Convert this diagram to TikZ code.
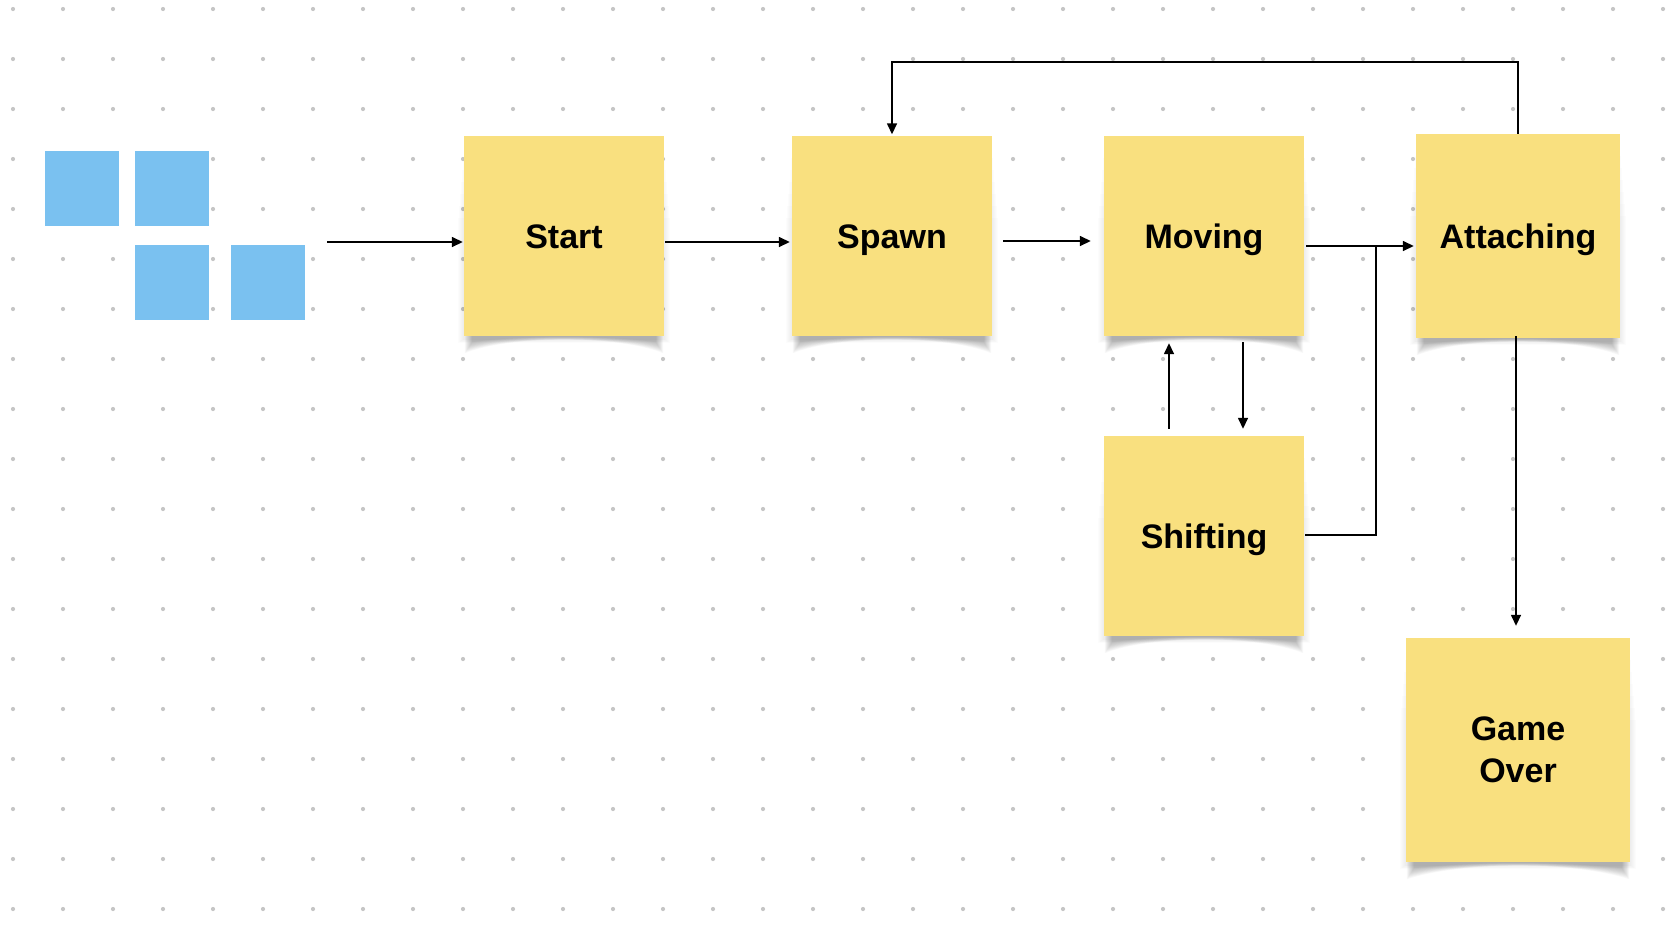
\documentclass[tikz,border=0pt]{standalone}
\usepackage{fontspec}
\setmainfont{Liberation Sans}
\usetikzlibrary{calc,arrows.meta}
\pgfdeclarelayer{canvas}
\pgfdeclarelayer{bg}
\pgfsetlayers{canvas,bg,main}

\definecolor{notey}{HTML}{F9E07F}
\definecolor{tileb}{HTML}{7AC1F0}
\definecolor{gridd}{HTML}{C6C6C6}

\tikzset{
  note/.style={fill=notey, minimum width=#1, minimum height=#1, inner sep=0pt,
    align=center, font=\fontsize{34}{41.5}\selectfont\bfseries},
  oneline/.style={text height=24.5pt, text depth=0pt},
  tile/.style={fill=tileb, minimum width=74pt, minimum height=75pt, inner sep=0pt},
  conn/.style={line width=1.5pt, -{Triangle[length=11pt,width=10pt]}},
  link/.style={line width=1.5pt},
}

% soft halo and curled bottom shadow of a sticky note
\newcommand{\noteshadow}[1]{%
  \foreach \k in {1,...,6}{%
    \fill[black, opacity=0.010]
      ($(#1.south west)+(-\k,\k*0.6+3)$) rectangle ($(#1.north east)+(\k,10+\k*12)$);
  }%
  \foreach \k in {0,...,9}{%
    \fill[black, opacity=0.028]
      ($(#1.south west)+(1+\k*0.8,-2)$) -- ($(#1.south west)+(1+\k*0.8,17-\k*1.2)$)
      .. controls ($(#1.south)+(-55,-1)$) and ($(#1.south)+(55,-1)$) ..
      ($(#1.south east)+(-1-\k*0.8,17-\k*1.2)$) -- ($(#1.south east)+(-1-\k*0.8,-2)$) -- cycle;
  }%
}

\begin{document}
\begin{tikzpicture}[x=1pt, y=-1pt]
\useasboundingbox (0,0) rectangle (1674,938);

% dotted canvas
\begin{pgfonlayer}{canvas}
  \fill[white] (0,0) rectangle (1674,938);
  \foreach \i in {0,...,33}{
    \foreach \j in {0,...,18}{
      \fill[gridd] (13+50*\i, 9+50*\j) circle (2.1);
    }
  }
\end{pgfonlayer}

% blue tiles
\node[tile] (b1) at (82,188.5) {};
\node[tile] (b2) at (172,188.5) {};
\node[tile] (b3) at (172,282.5) {};
\node[tile] (b4) at (268,282.5) {};
\coordinate (src) at (327,242);

% state notes
\node[note=200pt, oneline] (start) at (564,236) {Start};
\node[note=200pt, oneline] (spawn) at (892,236) {Spawn};
\node[note=200pt, oneline] (moving) at (1204,236) {Moving};
\node[note=204pt, oneline] (attach) at (1518,236) {Attaching};
\node[note=200pt, oneline] (shift) at (1204,536) {Shifting};
\node[note=224pt] (over) at (1518,750) {\raisebox{-2pt}{Game}\\\raisebox{-2pt}{Over}};

\begin{pgfonlayer}{bg}
  \noteshadow{start}
  \noteshadow{spawn}
  \noteshadow{moving}
  \noteshadow{attach}
  \noteshadow{shift}
  \noteshadow{over}
\end{pgfonlayer}

% transitions
\draw[conn] (src) -- ($(src -| start.west)+(-1,0)$);
\draw[conn] ($(start.east)+(1,6)$) -- ($(spawn.west)+(-2,6)$);
\draw[conn] ($(spawn.east)+(11,5)$) -- ($(moving.west)+(-13,5)$);
\draw[conn] ($(moving.east)+(2,10)$) -- ($(attach.west)+(-2,10)$);
\coordinate (join) at (1376,246);
\draw[link] ($(shift.east)+(1,-1)$) -| (join);
\draw[conn] ($(shift.north)+(-35,-7)$) -- ($(moving.south)+(-35,7)$);
\draw[conn] ($(moving.south)+(39,6)$) -- ($(shift.north)+(39,-7)$);
\coordinate (loop) at (1518,62);
\draw[conn] (attach.north) -- (loop) -| ($(spawn.north)+(0,-1.5)$);
\draw[conn] ($(attach.south)+(-2,-2)$) -- ($(over.north)+(-2,-12)$);
\end{tikzpicture}
\end{document}
